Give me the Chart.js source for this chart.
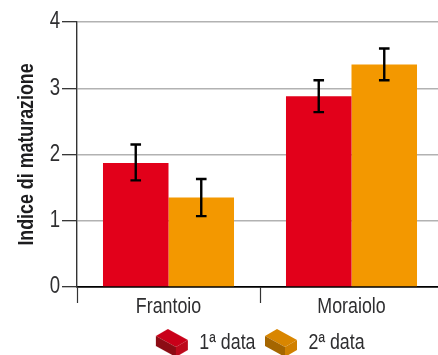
<!DOCTYPE html>
<html><head><meta charset="utf-8">
<style>html,body{margin:0;padding:0;background:#fff;overflow:hidden;width:438px;height:355px}canvas{display:block}</style>
<script src="https://cdn.jsdelivr.net/npm/chart.js@4"></script></head>
<body><canvas id="c" width="443" height="355"></canvas>
<script>
const categories = ['Frantoio','Moraiolo'];
const seriesNames = ['1ª data','2ª data'];
const first = [1.87,2.88];
const second = [1.35,3.36];
const firstLow = [1.61,2.64];
const firstHigh = [2.15,3.12];
const secondLow = [1.07,3.12];
const secondHigh = [1.63,3.60];
const yTicks = [0,1,2,3,4];
const FONT = '"Liberation Sans",sans-serif';
const INK = '#2e2e30';
const SQUEEZE = 0.81;

const canvas=document.getElementById('c');
const ctx0=canvas.getContext('2d');
const baseFill=ctx0.fillText.bind(ctx0), baseMeasure=ctx0.measureText.bind(ctx0);
ctx0.fillText=(t,x,y)=>baseFill(t,x,y,baseMeasure(t).width*SQUEEZE);
ctx0.measureText=t=>{const m=baseMeasure(t);return {width:m.width*SQUEEZE,actualBoundingBoxAscent:m.actualBoundingBoxAscent,actualBoundingBoxDescent:m.actualBoundingBoxDescent};};

function brick(top,left,right){
  const b=document.createElement('canvas');b.width=34;b.height=28;const g=b.getContext('2d');
  const poly=(p,col)=>{g.fillStyle=col;g.beginPath();p.forEach((q,i)=>i?g.lineTo(q[0],q[1]):g.moveTo(q[0],q[1]));g.closePath();g.fill();};
  poly([[1,7],[13,0],[33,11],[21,18]],top);
  poly([[1,7],[21,18],[21,28],[1,17]],left);
  poly([[21,18],[33,11],[33,21],[21,28]],right);
  return b;
}
const icons=[brick('#c90019','#8c0c14','#bd0a1c'),brick('#d98600','#a56600','#d08000')];

const errorBars={id:'errorBars',afterDatasetsDraw(chart){
  const ctx=chart.ctx,y=chart.scales.y;
  [[firstLow,firstHigh],[secondLow,secondHigh]].forEach((e,d)=>{
    const meta=chart.getDatasetMeta(d);
    meta.data.forEach((bar,i)=>{
      const lo=y.getPixelForValue(e[0][i]),hi=y.getPixelForValue(e[1][i]);
      ctx.save();ctx.strokeStyle='#000';ctx.lineWidth=2.4;
      ctx.beginPath();ctx.moveTo(bar.x,lo);ctx.lineTo(bar.x,hi);
      ctx.moveTo(bar.x-5.3,lo);ctx.lineTo(bar.x+5.3,lo);
      ctx.moveTo(bar.x-5.3,hi);ctx.lineTo(bar.x+5.3,hi);ctx.stroke();ctx.restore();
    });
  });
}};

new Chart(canvas,{
  type:'bar',
  data:{labels:categories,datasets:[
    {label:seriesNames[0],data:first,backgroundColor:'#e2001a',categoryPercentage:0.716,barPercentage:1},
    {label:seriesNames[1],data:second,backgroundColor:'#f39800',categoryPercentage:0.716,barPercentage:1}
  ]},
  options:{
    responsive:false,animation:false,
    layout:{padding:{top:22,left:0,right:0,bottom:-9}},
    scales:{
      x:{
        afterFit(s){s.height=36;},
        grid:{offset:true,drawOnChartArea:false,tickLength:16,tickColor:'#333',tickWidth:1.2},
        border:{color:'#000',width:1.6},
        ticks:{color:INK,font:{family:FONT,size:22},padding:-9,maxRotation:0}
      },
      y:{
        min:0,max:4,
        afterFit(s){s.width=77;},
        afterBuildTicks(s){s.ticks=yTicks.map(v=>({value:v}));},
        grid:{color:c=>c.tick&&c.tick.value===0?'#000':'#b2b2b2',lineWidth:1.4,tickLength:15,tickColor:'#222',tickWidth:1.2},
        border:{color:'#333',width:1.4},
        ticks:{color:INK,font:{family:FONT,size:23},padding:2},
        title:{display:true,text:'Indice di maturazione',color:'#1d1d1f',font:{family:FONT,size:22,weight:'bold'},padding:{top:14,bottom:0}}
      }
    },
    plugins:{
      tooltip:{enabled:false},
      legend:{
        position:'bottom',fullSize:false,
        labels:{
          usePointStyle:true,pointStyleWidth:33,padding:9,color:INK,font:{family:FONT,size:22},
          generateLabels:()=>seriesNames.map((t,i)=>({text:t,pointStyle:icons[i],fontColor:INK,datasetIndex:i,lineWidth:0,strokeStyle:'transparent',fillStyle:'transparent'}))
        }
      }
    }
  },
  plugins:[errorBars]
});
</script></body></html>
